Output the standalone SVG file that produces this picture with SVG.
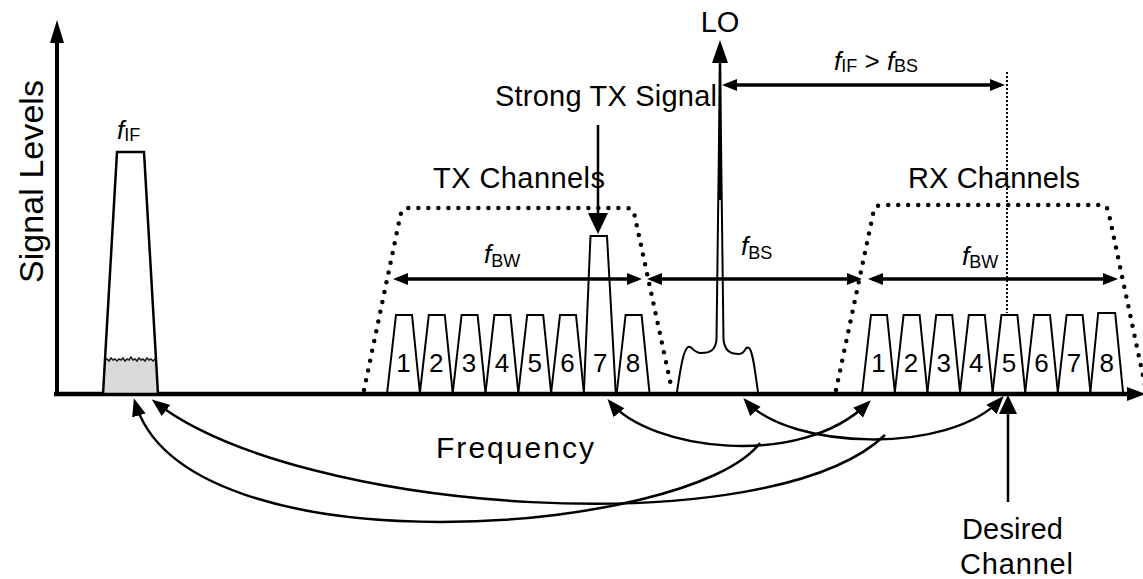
<svg xmlns="http://www.w3.org/2000/svg" width="1143" height="579" viewBox="0 0 1143 579">
<style>
text{font-family:"Liberation Sans",Arial,sans-serif;fill:#000}
.lbl{font-size:29px}
.dig{font-size:26px;text-anchor:middle}
.it{font-style:italic}
.sub{font-size:18px}
.fl{font-size:26px}
.ch{fill:none;stroke:#000;stroke-width:2;stroke-linejoin:miter}
.dot{fill:none;stroke:#000;stroke-width:4.5;stroke-dasharray:0 10;stroke-linecap:round}
.curve{fill:none;stroke:#000;stroke-width:2.5;marker-start:url(#arr);marker-end:url(#arr)}
.hline{fill:none;stroke:#000;stroke-width:3.5;marker-start:url(#harr);marker-end:url(#harr)}
</style>
<defs>
<marker id="arr" markerUnits="userSpaceOnUse" markerWidth="20" markerHeight="16" refX="14" refY="7" orient="auto-start-reverse"><path d="M0,0 L18,7 L0,14 z" fill="#000"/></marker>
<marker id="harr" markerUnits="userSpaceOnUse" markerWidth="16" markerHeight="13" refX="11" refY="6" orient="auto-start-reverse"><path d="M0,0 L15,6 L0,12 z" fill="#000"/></marker>
</defs>
<rect width="1143" height="579" fill="#fff"/>

<g id="axes">
<line x1="57" y1="396" x2="57" y2="40" stroke="#000" stroke-width="4"/>
<polygon points="57,20 64,43 50,43" fill="#000"/>
<line x1="54" y1="394" x2="1128" y2="394" stroke="#000" stroke-width="4.5"/>
<polygon points="1146,394 1127,387 1127,401" fill="#000"/>
<text transform="translate(43,283) rotate(-90)" style="font-size:34px" textLength="203" lengthAdjust="spacing">Signal Levels</text>
<text x="436" y="458" style="font-size:30px" textLength="158" lengthAdjust="spacing">Frequency</text>
</g>

<g id="if-signal">
<polygon points="105,360 107,359 109,361 111,358 113,360 115,359 117,361 119,359 121,360 123,358 125,361 127,359 129,360 131,357 133,360 135,359 137,361 139,358 141,360 143,359 145,361 147,358 149,360 151,359 153,361 155,359 156,360 158,394 103,394" fill="#d9d9d9"/>
<polyline points="105,360 107,359 109,361 111,358 113,360 115,359 117,361 119,359 121,360 123,358 125,361 127,359 129,360 131,357 133,360 135,359 137,361 139,358 141,360 143,359 145,361 147,358 149,360 151,359 153,361 155,359 156,360" fill="none" stroke="#1a1a1a" stroke-width="1.5"/>
<polygon points="103,394 117,152 144,152 158,394" fill="none" stroke="#000" stroke-width="2.5"/>
<text class="fl" x="117" y="139"><tspan class="it">f</tspan><tspan class="sub" dy="2">IF</tspan></text>
</g>

<g id="tx-filter">
<path class="dot" d="M364,390 L400.5,215 Q402,208 409,208 L626,208 Q633,208 634.5,215 L672,390"/>
<text class="lbl" x="433" y="188" textLength="172" lengthAdjust="spacing">TX Channels</text>
<text class="fl" x="484" y="263"><tspan class="it">f</tspan><tspan class="sub" dy="4">BW</tspan></text>
</g>

<g id="tx-channels">
<polygon class="ch" points="387,394 396,315 412,315 420,394"/>
<polygon class="ch" points="419.8,394 428.8,315 444.8,315 452.8,394"/>
<polygon class="ch" points="452.6,394 461.6,315 477.6,315 485.6,394"/>
<polygon class="ch" points="485.4,394 494.4,315 510.4,315 518.4,394"/>
<polygon class="ch" points="518.2,394 527.2,315 543.2,315 551.2,394"/>
<polygon class="ch" points="551,394 560,315 576,315 584,394"/>
<polygon class="ch" points="583.8,394 590.5,236 607,236 615.8,394"/>
<polygon class="ch" points="616.6,394 625.6,315 641.6,315 649.6,394"/>
<text class="dig" x="403.5" y="372">1</text>
<text class="dig" x="436.3" y="372">2</text>
<text class="dig" x="469.1" y="372">3</text>
<text class="dig" x="501.9" y="372">4</text>
<text class="dig" x="534.7" y="372">5</text>
<text class="dig" x="567.5" y="372">6</text>
<text class="dig" x="600.3" y="372">7</text>
<text class="dig" x="633.1" y="372">8</text>
</g>

<g id="strong-tx">
<text class="lbl" x="495" y="106" textLength="222" lengthAdjust="spacing">Strong TX Signal</text>
</g>

<g id="lo">
<path d="M677,392 C680,372 683,350 688,347 C692,345 693,353 701,353 C711,353 715,350 716.5,340 L720,62 L723.5,340 C725,350 729,354 739,354 C746,354 745,345 749,348 C753,351 755,372 758,392" fill="none" stroke="#000" stroke-width="2"/>
<line x1="720" y1="200" x2="720" y2="60" stroke="#000" stroke-width="2.5"/>
<polygon points="720,40 728,63 712,63" fill="#000"/>
<text class="lbl" x="720" y="32" text-anchor="middle">LO</text>
<text class="fl" x="741" y="255"><tspan class="it">f</tspan><tspan class="sub" dy="4">BS</tspan></text>
</g>

<g id="rx-filter">
<path class="dot" d="M836,390 L873.5,212 Q875,205 882,205 L1100,205 Q1107,205 1108.5,212 L1146,390"/>
<text class="lbl" x="908" y="188" textLength="172" lengthAdjust="spacing">RX Channels</text>
<text class="fl" x="962" y="265"><tspan class="it">f</tspan><tspan class="sub" dy="3">BW</tspan></text>
</g>

<g id="rx-channels">
<polygon class="ch" points="862,394 871,315 887,315 895,394"/>
<polygon class="ch" points="894.6,394 903.6,315 919.6,315 927.6,394"/>
<polygon class="ch" points="927.2,394 936.2,315 952.2,315 960.2,394"/>
<polygon class="ch" points="959.8,394 968.8,315 984.8,315 992.8,394"/>
<polygon class="ch" points="992.4,394 1001.4,315 1017.4,315 1025.4,394"/>
<polygon class="ch" points="1025,394 1034,315 1050,315 1058,394"/>
<polygon class="ch" points="1057.6,394 1066.6,315 1082.6,315 1090.6,394"/>
<polygon class="ch" points="1090.2,394 1098.2,313 1115.2,313 1123.2,394"/>
<text class="dig" x="878.5" y="372">1</text>
<text class="dig" x="911.1" y="372">2</text>
<text class="dig" x="943.7" y="372">3</text>
<text class="dig" x="976.3" y="372">4</text>
<text class="dig" x="1008.9" y="372">5</text>
<text class="dig" x="1041.5" y="372">6</text>
<text class="dig" x="1074.1" y="372">7</text>
<text class="dig" x="1106.7" y="372">8</text>
</g>

<g id="if-bs-label">
<text class="fl" x="834" y="70"><tspan class="it">f</tspan><tspan class="sub" dy="2">IF</tspan><tspan dy="-2"> &gt; </tspan><tspan class="it">f</tspan><tspan class="sub" dy="2">BS</tspan></text>
</g>

<g id="desired-channel">
<text x="962" y="539" style="font-size:29px" textLength="101" lengthAdjust="spacing">Desired</text>
<text x="960" y="574" style="font-size:29px" textLength="113" lengthAdjust="spacing">Channel</text>
</g>

<g id="connectors">
<line x1="1007" y1="72" x2="1007" y2="313" stroke="#000" stroke-width="2" stroke-dasharray="2 2"/>
<line class="hline" x1="397" y1="279" x2="638" y2="279"/>
<line class="hline" x1="651" y1="279" x2="858" y2="279"/>
<line class="hline" x1="872" y1="279" x2="1114" y2="279"/>
<line class="hline" x1="726" y1="85" x2="1001" y2="85"/>
<line x1="598" y1="125" x2="598" y2="216" stroke="#000" stroke-width="2.5"/>
<polygon points="598,234 608,213 588,213" fill="#000"/>
<line x1="1008" y1="502" x2="1008" y2="410" stroke="#000" stroke-width="2.5"/>
<polygon points="1008,395 1017,414 999,414" fill="#000"/>
<path class="curve" d="M610,402 C650,450 800,470 868,403"/>
<path class="curve" d="M746,401 C790,450 950,455 1001,399"/>
<path class="curve" style="marker-start:none" d="M760,443 C690,535 185,575 135,402"/>
<path class="curve" style="marker-start:none" d="M885,435 C770,545 300,515 155,402"/>
</g>
</svg>
